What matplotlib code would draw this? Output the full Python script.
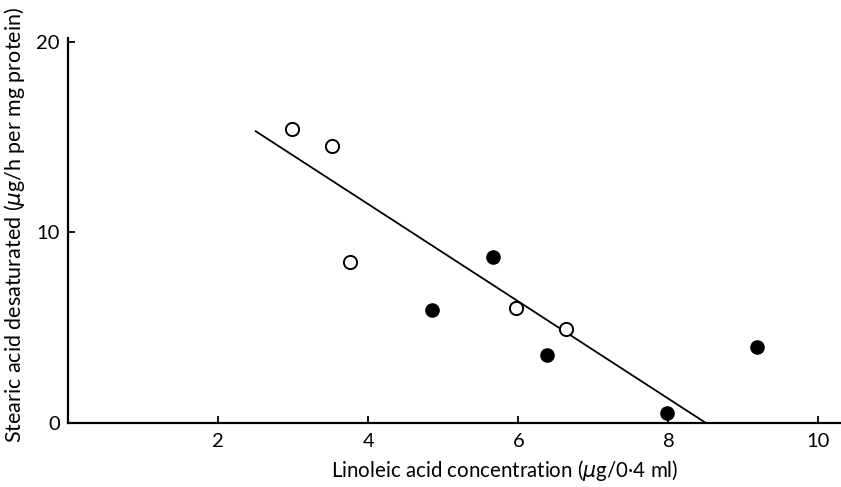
import matplotlib
matplotlib.use("Agg")
import matplotlib.pyplot as plt

# open circles
open_x = [2.99, 3.52, 3.75, 5.97, 6.63]
open_y = [15.4, 14.55, 8.45, 6.02, 4.93]

# filled circles
filled_x = [4.85, 5.66, 6.38, 7.98, 9.18]
filled_y = [5.93, 8.70, 3.55, 0.52, 3.97]

# regression line end points
line_x = [2.5, 8.5]
line_y = [15.3, 0.0]

x_ticks = [2, 4, 6, 8, 10]
y_ticks = [0, 10, 20]

plt.rcParams['font.family'] = ['Lato', 'DejaVu Sans']

fig = plt.figure(figsize=(8.41, 4.87), dpi=100)
ax = fig.add_axes([0.081, 0.1314, 0.919, 0.791])

ax.plot(line_x, line_y, color='black', linewidth=1.3)
ax.plot(open_x, open_y, 'o', markersize=9.5, markerfacecolor='white',
        markeredgecolor='black', markeredgewidth=1.4)
ax.plot(filled_x, filled_y, 'o', markersize=9.5, color='black')

ax.set_xlim(0, 10.3)
ax.set_ylim(0, 20.2)
ax.set_xticks(x_ticks)
ax.set_yticks(y_ticks)
ax.tick_params(direction='in', length=5, width=1.3, labelsize=14.5)
ax.tick_params(axis='x', pad=7)
ax.tick_params(axis='y', pad=6)

for s in ['top', 'right']:
    ax.spines[s].set_visible(False)
for s in ['left', 'bottom']:
    ax.spines[s].set_linewidth(1.6)

ax.set_xlabel("Linoleic acid concentration ($\\mu$g/0·4 ml)", fontsize=14.8)
ax.set_ylabel("Stearic acid desaturated ($\\mu$g/h per mg protein)", fontsize=15.5)
ax.xaxis.set_label_coords(0.565, -0.092)
ax.yaxis.set_label_coords(-0.053, 0.514)

fig.savefig("out.png", dpi=100)
